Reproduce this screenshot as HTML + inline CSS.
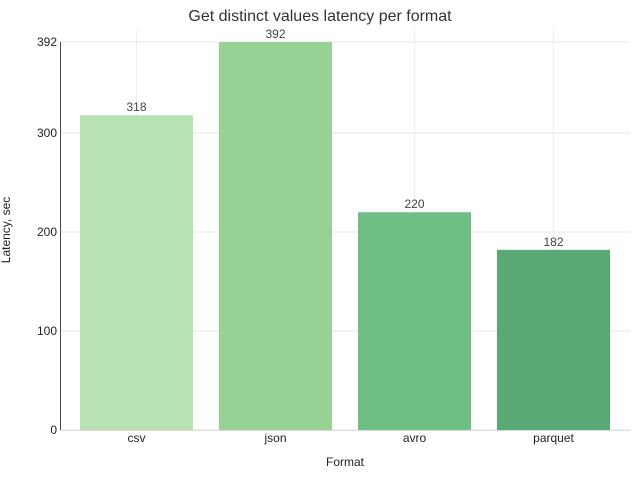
<!DOCTYPE html>
<html><head><meta charset="utf-8"><style>
body{margin:0;background:#fff;}
svg{display:block;font-family:"Liberation Sans",sans-serif;}
</style></head><body>
<svg id="chart" width="640" height="480">
<text x="320" y="21" text-anchor="middle" font-size="16" fill="#333" font-family="'Liberation Sans Narrow','Liberation Sans',sans-serif">Get distinct values latency per format</text>
<g id="grid"></g><g id="bars"></g><g id="axes"></g>
<text x="345" y="466" text-anchor="middle" font-size="12" fill="#222">Format</text>
<text transform="translate(10,230) rotate(-90)" text-anchor="middle" font-size="12" fill="#222">Latency, sec</text>
</svg>
<script>
const categories=["csv","json","avro","parquet"];
const values=[318,392,220,182];
const yTicks=[0,100,200,300,392];
const colors=["#b9e2b4","#98d194","#6fbf85","#5aa873"];
const NS="http://www.w3.org/2000/svg";
const x0=60,x1=630,y0=430,y1=42,yMax=392;
const bandStart=67,band=139,barW=113;
const y=v=>y0-(v/yMax)*(y0-y1);
const xc=i=>bandStart+band*(i+0.5);
function mk(t,a,p){const e=document.createElementNS(NS,t);for(const k in a)e.setAttribute(k,a[k]);p.appendChild(e);return e;}
const g=document.getElementById('grid'),b=document.getElementById('bars'),ax=document.getElementById('axes');
yTicks.forEach(t=>{
 const l=mk('line',{x1:x0,x2:x1,y1:y(t),y2:y(t),stroke:'#e6e6e6'},g);
 
 
 const tx=mk('text',{x:x0-3,y:y(t)+4,'text-anchor':'end','font-size':12,fill:'#222'},ax);
 tx.textContent=t;
 
 
});
categories.forEach((c,i)=>{
 const l=mk('line',{x1:xc(i),x2:xc(i),y1:y1-12,y2:y0,stroke:'#eeeeee'},g);
 
 
 const r=mk('rect',{x:xc(i)-barW/2,y:y(values[i]),width:barW,height:y0-y(values[i]),fill:colors[i]},b);
 
 
 const v=mk('text',{x:xc(i),y:y(values[i])-4,'text-anchor':'middle','font-size':12,fill:'#444'},b);
 v.textContent=values[i];
 
 
 const tl=mk('text',{x:xc(i),y:y0+12,'text-anchor':'middle','font-size':12,fill:'#222'},ax);
 tl.textContent=c;
 
 
});
const xa=mk('line',{x1:x0,x2:x1,y1:y0+0.5,y2:y0+0.5,stroke:'#ddd'},ax);


const ya=mk('line',{x1:x0+0.5,x2:x0+0.5,y1:y1,y2:y0,stroke:'#444'},ax);


</script>
</body></html>
